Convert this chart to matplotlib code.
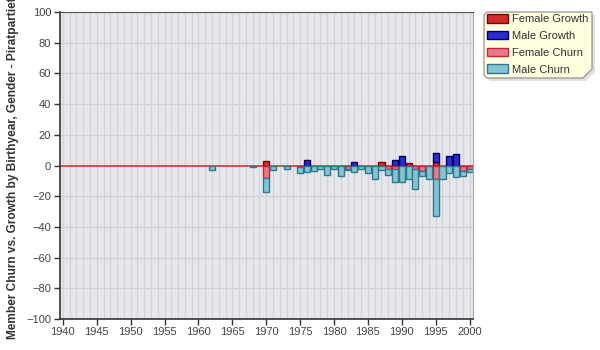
import numpy as np
import matplotlib
matplotlib.use("Agg")
import matplotlib.pyplot as plt
from matplotlib.patches import Patch, Polygon

plt.rcParams['font.family'] = ['Liberation Sans', 'DejaVu Sans']

# Birth years covered by the chart
years = list(range(1940, 2001))

# Growth per birth year (stacked upwards)
female_growth = {1970: 3, 1987: 2, 1991: 1.5, 1995: 2}
male_growth = {1976: 3.5, 1983: 2, 1989: 3.5, 1990: 6, 1995: 6, 1997: 6, 1998: 7.5}

# Churn per birth year (stacked downwards)
female_churn = {1970: -8, 1975: -1, 1982: -2, 1988: -2, 1989: -2, 1992: -2,
                1993: -3.5, 1995: -9, 1999: -3.5, 2000: -2}
male_churn = {1962: -3, 1968: -1, 1970: -9, 1971: -3, 1973: -2, 1975: -4,
              1976: -4.5, 1977: -3.5, 1978: -2, 1979: -6, 1980: -2, 1981: -7,
              1982: -1, 1983: -4, 1984: -2, 1985: -5, 1986: -9, 1987: -3,
              1988: -4, 1989: -9, 1990: -11, 1991: -9, 1992: -13, 1993: -3.5,
              1994: -9, 1995: -24, 1996: -9, 1997: -5, 1998: -7.5, 1999: -3.5,
              2000: -2}

y_ticks = list(range(-100, 101, 20))
x_ticks = list(range(1940, 2001, 5))
series_names = ["Female Growth", "Male Growth", "Female Churn", "Male Churn"]

fg = np.array([female_growth.get(y, 0) for y in years], dtype=float)
mg = np.array([male_growth.get(y, 0) for y in years], dtype=float)
fc = np.array([female_churn.get(y, 0) for y in years], dtype=float)
mc = np.array([male_churn.get(y, 0) for y in years], dtype=float)

styles = {
    "Female Growth": dict(facecolor="#d42b2b", edgecolor="#7a0000"),
    "Male Growth": dict(facecolor="#2b2bcf", edgecolor="#000066"),
    "Female Churn": dict(facecolor="#e77a8b", edgecolor="#cc1f3a"),
    "Male Churn": dict(facecolor="#86c3d3", edgecolor="#2c7a90"),
}

fig = plt.figure(figsize=(6, 3.5), dpi=100)
fig.patch.set_facecolor("white")
ax = fig.add_axes([59.5 / 600, 1 - 319 / 350, (473 - 59.5) / 600, (319 - 12) / 350])
ax.set_facecolor("#e6e7ea")

x = np.array(years)
w = 0.9


def stacked(heights, bottoms, name):
    keep = heights != 0
    ax.bar(x[keep], heights[keep], bottom=bottoms[keep], width=w,
           linewidth=1, zorder=3, **styles[name])


stacked(fg, np.zeros_like(fg), "Female Growth")
stacked(mg, fg, "Male Growth")
stacked(fc, np.zeros_like(fc), "Female Churn")
stacked(mc, fc, "Male Churn")
ax.axhline(0, color="#d03a3a", lw=1.2, zorder=2)

ax.set_xlim(1939.5, 2000.5)
ax.set_ylim(-100, 100)
ax.set_yticks(y_ticks)
ax.set_xticks(x_ticks)
ax.set_xticks(years, minor=True)
ax.grid(True, which="major", axis="y", color="#cfd0d3", lw=0.9, zorder=1)
ax.grid(True, which="minor", axis="x", color="#d3d4d7", lw=0.9, zorder=1)
ax.grid(True, which="major", axis="x", color="#d3d4d7", lw=0.9, zorder=1)
ax.tick_params(axis="both", which="major", direction="out", length=4, width=1,
               color="#333333", labelsize=8, labelcolor="#444444", pad=2)
ax.tick_params(axis="x", which="minor", length=0)

for side in ("left", "bottom"):
    ax.spines[side].set_color("#333333")
    ax.spines[side].set_linewidth(1.2)
ax.spines["top"].set_color("#555555")
ax.spines["right"].set_color("#aaaaaa")

ax.set_ylabel("Member Churn vs. Growth by Birthyear, Gender - Piratpartiet",
              fontsize=8.6, fontweight="bold", color="#333333")
ax.yaxis.set_label_coords(-0.098, 0.49)

# Legend box with a clipped lower-right corner and a soft shadow
def px(xp, yp):
    return (xp / 600, 1 - yp / 350)

l, t, r, b, c = 484, 12, 592, 78, 9
outline = [px(l + 3, t), px(r, t), px(r, b - c), px(r - c, b), px(l + 3, b),
           px(l, b - 3), px(l, t + 3)]
shadow = [(xx + 3 / 600, yy - 3 / 350) for xx, yy in outline]
fig.patches.append(Polygon(shadow, closed=True, transform=fig.transFigure,
                           facecolor="#000000", alpha=0.12, edgecolor="none"))
fig.patches.append(Polygon(outline, closed=True, transform=fig.transFigure,
                           facecolor="#ffffe0", edgecolor="#888888", lw=0.8))

handles = [Patch(label=n, linewidth=1, **styles[n]) for n in series_names]
leg = fig.legend(handles=handles, loc="upper left", bbox_to_anchor=px(486, 13),
                 frameon=False, fontsize=8, handlelength=1.9, handleheight=0.8,
                 handletextpad=0.3, labelspacing=0.6, borderaxespad=0,
                 borderpad=0.1)
for txt in leg.get_texts():
    txt.set_color("#333333")

fig.savefig("out.png", dpi=100, facecolor="white")
